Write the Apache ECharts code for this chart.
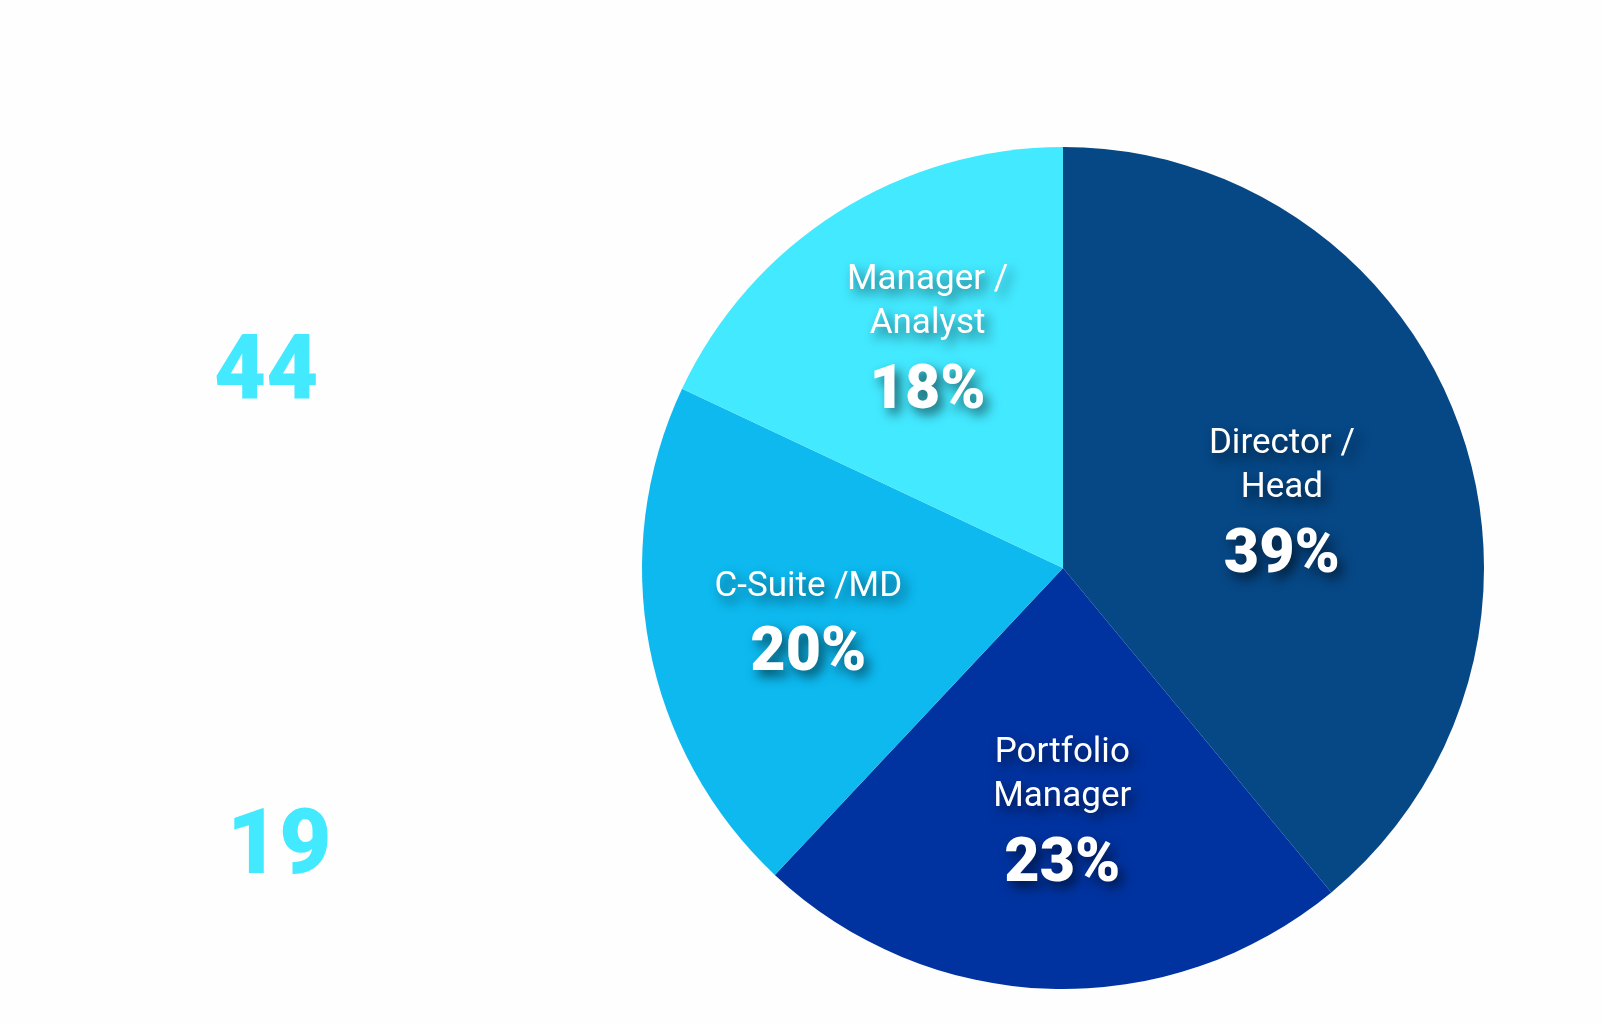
<!DOCTYPE html>
<html>
<head>
<meta charset="utf-8">
<style>
  html, body { margin: 0; padding: 0; background: #fff; }
  #chart { width: 1602px; height: 1024px; }
</style>
<script src="https://cdn.jsdelivr.net/npm/echarts@6/dist/echarts.min.js"></script>
</head>
<body>
<div id="chart"></div>
<script>
const roles = ['Director /\nHead', 'Portfolio\nManager', 'C-Suite /MD', 'Manager /\nAnalyst'];
const shares = [39, 23, 20, 18];
const sliceColors = ['#064785', '#0033a0', '#0db9ef', '#43e9ff'];
const sideNumbers = ['44', '19'];
// nudges from the default inside-label spot, by slice
const labelNudge = [[18, 17], [6, 40], [-45, 25], [-21, -39]];

const FONT = "Roboto, sans-serif";
const SHADOW = { textShadowColor: 'rgba(0,0,0,.6)', textShadowBlur: 12, textShadowOffsetX: 5, textShadowOffsetY: 6 };
const chart = echarts.init(document.getElementById('chart'));

chart.setOption({
  animation: false,
  backgroundColor: '#fefefe',
  textStyle: { fontFamily: FONT },
  graphic: [
    { type: 'text', left: 214, top: 331, style: { text: sideNumbers[0], fill: '#43e9ff', font: '900 90px ' + FONT } },
    { type: 'text', left: 227, top: 805, style: { text: sideNumbers[1], fill: '#43e9ff', font: '900 90px ' + FONT } },
  ],
  series: [{
    type: 'pie',
    center: [1063, 568],
    radius: [0, 421],
    startAngle: 90,
    clockwise: true,
    data: roles.map((r, i) => ({ name: r, value: shares[i], itemStyle: { color: sliceColors[i] } })),
    label: {
      position: 'inside',
      formatter: (p) => `{name|${p.name}}\n{pct|${p.value}%}`,
      rich: {
        name: { color: '#fff', fontSize: 35, lineHeight: 44, fontFamily: FONT, ...SHADOW },
        pct: { color: '#fff', fontSize: 61, fontWeight: 900, lineHeight: 92, fontFamily: FONT, ...SHADOW },
      },
    },
    labelLayout: (p) => ({ dx: labelNudge[p.dataIndex][0], dy: labelNudge[p.dataIndex][1] }),
    labelLine: { show: false },
  }],
});
</script>
</body>
</html>
